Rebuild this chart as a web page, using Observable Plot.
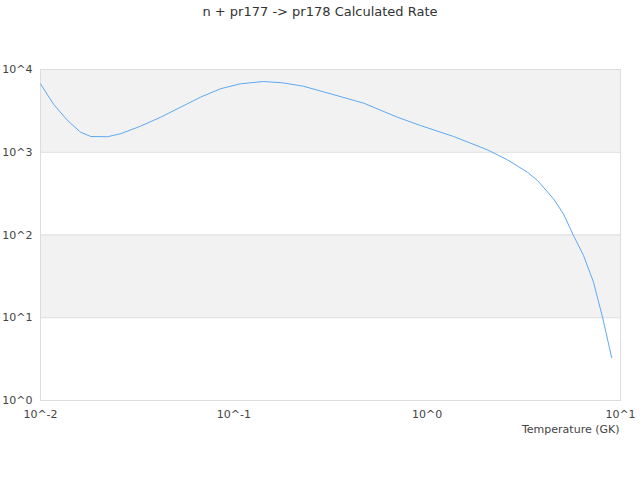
<!DOCTYPE html>
<html>
<head>
<meta charset="utf-8">
<script src="https://cdn.jsdelivr.net/npm/d3@7"></script>
<script src="https://cdn.jsdelivr.net/npm/@observablehq/plot@0.6"></script>
<style>
  html, body { margin: 0; padding: 0; background: #fff; }
  #title { width: 640px; height: 24px; line-height: 24px; text-align: center;
           font-family: "DejaVu Sans", sans-serif; font-size: 13px; color: #333; }
</style>
</head>
<body>
<div id="title"></div>
<div id="chart"></div>
<script>
const titleText = "n + pr177 -> pr178 Calculated Rate";
const xLabel = "Temperature (GK)";

// Temperature (GK)
const temps = [0.01, 0.0117, 0.0138, 0.0161, 0.0182, 0.0222, 0.0259, 0.0329, 0.0418, 0.053,
  0.0672, 0.0853, 0.108, 0.142, 0.179, 0.229, 0.316, 0.469, 0.702, 0.924,
  1.37, 2.05, 2.6, 3.3, 3.72, 4.5, 5.07, 5.71, 6.44, 7.25, 8.07, 9.0];
// Calculated rate
const rates = [6710, 3780, 2420, 1750, 1550, 1540, 1670, 2065, 2650, 3500,
  4630, 5850, 6710, 7160, 6900, 6280, 5090, 3920, 2650, 2105,
  1550, 1070, 810, 574, 456, 274, 180, 98.6, 56.5, 26.9, 10.2, 3.3];

const xTicks = [0.01, 0.1, 1, 10];
const yTicks = [1, 10, 100, 1000, 10000];
// shaded decade bands
const bandLow = [1000, 10];
const bandHigh = [10000, 100];

document.getElementById("title").textContent = titleText;

const data = temps.map((t, i) => ({t, r: rates[i]}));
const bands = bandLow.map((lo, i) => ({lo, hi: bandHigh[i]}));
const fmt = d => "10^" + Math.round(Math.log10(d));

const chart = Plot.plot({
  width: 640,
  height: 456,
  marginTop: 45,
  marginBottom: 80,
  marginLeft: 40,
  marginRight: 20,
  style: {fontFamily: "DejaVu Sans, sans-serif", fontSize: "11px", color: "#444", background: "#fff"},
  x: {type: "log", domain: [0.01, 10]},
  y: {type: "log", domain: [1, 10000]},
  marks: [
    Plot.rect(bands, {x1: xTicks[0], x2: xTicks[xTicks.length - 1], y1: "lo", y2: "hi", fill: "#f2f2f2"}),
    Plot.ruleY(yTicks, {stroke: "#dddddd", strokeWidth: 1}),
    Plot.frame({stroke: "#dddddd"}),
    Plot.axisX({ticks: xTicks, tickFormat: fmt, tickSize: 0, tickPadding: 10, label: null, fill: "#444"}),
    Plot.axisY({ticks: yTicks, tickFormat: fmt, tickSize: 0, tickPadding: 8, label: null, fill: "#444"}),
    Plot.line(data, {x: "t", y: "r", stroke: "#5ea9f4", strokeWidth: 1}),
    Plot.text([xLabel], {frameAnchor: "bottom-right", dy: 32, dx: -1, textAnchor: "end", fill: "#444", fontSize: 11})
  ]
});
document.getElementById("chart").appendChild(chart);
</script>
</body>
</html>
